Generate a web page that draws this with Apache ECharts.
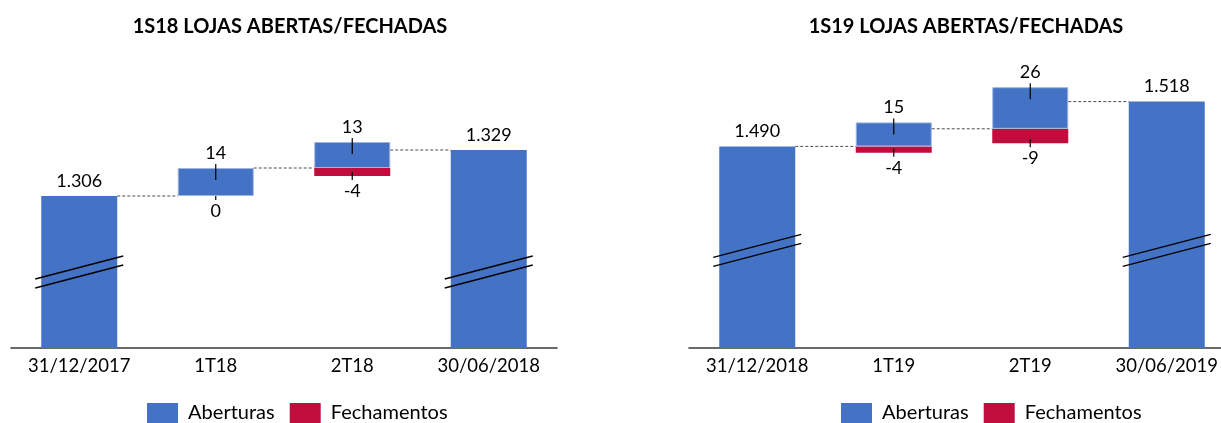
<!DOCTYPE html>
<html>
<head>
<meta charset="utf-8">
<script src="https://cdn.jsdelivr.net/npm/echarts@6/dist/echarts.min.js"></script>
<style>
  html, body { margin: 0; padding: 0; background: #fff; }
  #chart { width: 1221px; height: 423px; }
</style>
</head>
<body>
<div id="chart"></div>
<script>
// 1S18
const cats18 = ['31/12/2017', '1T18', '2T18', '30/06/2018']
const start18 = 1306
const adds18 = [14, 13]
const cuts18 = [0, -4]
const end18 = 1329

// 1S19
const cats19 = ['31/12/2018', '1T19', '2T19', '30/06/2019']
const start19 = 1490
const adds19 = [15, 26]
const cuts19 = [-4, -9]
const end19 = 1518

const BLUE = '#4472C4'
const RED = '#C00D3E'
const FONT = 'Lato'

const chart = echarts.init(document.getElementById('chart'))

// número com separador de milhar "."
function fmt(v) {
  return String(v).replace(/\B(?=(\d{3})+(?!\d))/g, '.')
}

function line(x1, y1, x2, y2, style) {
  return { type: 'line', shape: { x1: x1, y1: y1, x2: x2, y2: y2 }, style: style }
}

// monta as séries de um gráfico cascata
function build(k, start, adds, cuts, end, barW, breakAt) {
  const ghost = [0]
  const red = ['-']
  const blue = [start]
  const conns = [[0, start]]
  const ticks = []
  let lvl = start
  adds.forEach((a, j) => {
    const base = lvl + cuts[j]
    ghost.push(base)
    red.push({ value: -cuts[j] })
    blue.push({ value: a, itemStyle: { borderColor: '#9fb4df', borderWidth: 1 } })
    ticks.push([j + 1, base, lvl + a, -cuts[j]])
    lvl = lvl + a + cuts[j]
    conns.push([j + 1, lvl])
  })
  ghost.push(0)
  red.push('-')
  blue.push(end)

  const common = { type: 'bar', stack: 's' + k, xAxisIndex: k, yAxisIndex: k, barWidth: barW }
  return [
    Object.assign({}, common, {
      name: 'ghost', data: ghost, itemStyle: { color: 'transparent' }, silent: true
    }),
    Object.assign({}, common, {
      name: 'Fechamentos', data: red, itemStyle: { color: RED },
      label: {
        show: true, position: 'bottom', distance: 6, color: '#000', fontFamily: FONT, fontSize: 18,
        formatter: p => (p.value === 0 ? '0' : '-' + p.value)
      }
    }),
    Object.assign({}, common, {
      name: 'Aberturas', data: blue, itemStyle: { color: BLUE },
      label: {
        show: true, position: 'top', distance: 6, color: '#000', fontFamily: FONT, fontSize: 18,
        formatter: p => fmt(p.value)
      }
    }),
    // linhas tracejadas entre as barras
    {
      type: 'custom', xAxisIndex: k, yAxisIndex: k, silent: true, z: 3,
      data: conns,
      renderItem: (params, api) => {
        const p = api.coord([api.value(0), api.value(1)])
        const band = api.size([1, 0])[0]
        return line(p[0] + barW / 2, p[1], p[0] + band - barW / 2, p[1],
          { stroke: '#4d4d4d', lineWidth: 1, lineDash: [3, 2] })
      }
    },
    // marcas dos rótulos
    {
      type: 'custom', xAxisIndex: k, yAxisIndex: k, silent: true, z: 4,
      data: ticks,
      renderItem: (params, api) => {
        const b = api.coord([api.value(0), api.value(1)])
        const t = api.coord([api.value(0), api.value(2)])
        const st = { stroke: '#000', lineWidth: 1.2 }
        const up = api.value(3) > 0 ? 4 : 0
        return {
          type: 'group',
          children: [
            line(t[0], t[1] - 4, t[0], t[1] + 12, st),
            line(b[0], b[1] - up, b[0], b[1] + 4, st)
          ]
        }
      }
    },
    // quebra do eixo nas barras de total
    {
      type: 'custom', xAxisIndex: k, yAxisIndex: k, silent: true, z: 5,
      data: [[0, breakAt], [3, breakAt]],
      renderItem: (params, api) => {
        const c = api.coord([api.value(0), api.value(1)])
        const h = barW / 2 + 6
        const st = { stroke: '#000', lineWidth: 1.3 }
        return {
          type: 'group',
          children: [
            line(c[0] - h, c[1] + 7, c[0] + h, c[1] - 16, st),
            line(c[0] - h, c[1] + 16, c[0] + h, c[1] - 7, st)
          ]
        }
      }
    }
  ]
}

function xAxis(k, cats) {
  return {
    gridIndex: k, type: 'category', data: cats,
    axisLine: { lineStyle: { color: '#3a3a3a', width: 1.6 } },
    axisTick: { show: false },
    axisLabel: { interval: 0, color: '#000', fontFamily: FONT, fontSize: 18.5, margin: 9 }
  }
}

function yAxis(k, min, max) {
  return { gridIndex: k, type: 'value', min: min, max: max, show: false, splitLine: { show: false } }
}

function legend(left) {
  return {
    left: left, top: 403, padding: 0, itemWidth: 31, itemHeight: 20, itemGap: 15,
    icon: 'rect', data: ['Aberturas', 'Fechamentos'],
    formatter: name => ' ' + name,
    textStyle: { color: '#000', fontFamily: FONT, fontSize: 20 }
  }
}

const option = {
  animation: false,
  title: [
    { text: '1S18 LOJAS ABERTAS/FECHADAS', left: 285, top: 12, textAlign: 'center',
      textStyle: { fontFamily: FONT, fontWeight: 'bold', fontSize: 20, color: '#000' } },
    { text: '1S19 LOJAS ABERTAS/FECHADAS', left: 961, top: 12, textAlign: 'center',
      textStyle: { fontFamily: FONT, fontWeight: 'bold', fontSize: 20, color: '#000' } }
  ],
  legend: [legend(147), legend(841)],
  grid: [
    { left: 11, width: 546, top: 68, bottom: 75, outerBoundsMode: 'none' },
    { left: 689, width: 546, top: 68, bottom: 75, outerBoundsMode: 'none' }
  ],
  xAxis: [xAxis(0, cats18), xAxis(1, cats19)],
  yAxis: [yAxis(0, 1230, 1370), yAxis(1, 1364, 1539)],
  series: build(0, start18, adds18, cuts18, end18, 76, 1268)
    .concat(build(1, start19, adds19, cuts19, end19, 76, 1425))
}

chart.setOption(option)
</script>
</body>
</html>
